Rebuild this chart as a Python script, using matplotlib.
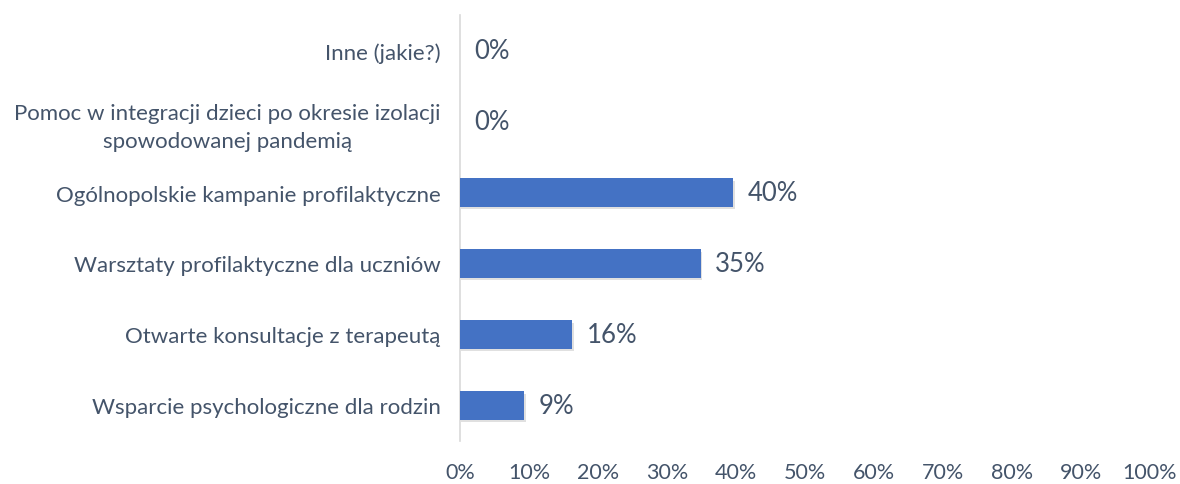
import matplotlib
matplotlib.use("Agg")
import matplotlib.pyplot as plt
import matplotlib.patheffects as pe
from matplotlib.ticker import FuncFormatter

categories = [
    "Wsparcie psychologiczne dla rodzin",
    "Otwarte konsultacje z terapeutą",
    "Warsztaty profilaktyczne dla uczniów",
    "Ogólnopolskie kampanie profilaktyczne",
    "Pomoc w integracji dzieci po okresie izolacji\nspowodowanej pandemią",
    "Inne (jakie?)",
]
values = [0.093, 0.163, 0.349, 0.396, 0.0, 0.0]
x_ticks = [0.0, 0.1, 0.2, 0.3, 0.4, 0.5, 0.6, 0.7, 0.8, 0.9, 1.0]

TEXT = "#44546A"
BAR = "#4472C4"

plt.rcParams['font.family'] = ['Lato', 'DejaVu Sans']

fig = plt.figure(figsize=(11.8, 4.85), dpi=100)
ax = fig.add_axes([460/1180, 43/485, 690/1180, 426/485])

ypos = list(range(len(categories)))
bars = ax.barh(ypos, values, height=0.4, color=BAR, zorder=3)
for b in bars:
    b.set_path_effects([pe.SimplePatchShadow(offset=(1, -2), shadow_rgbFace="#000000", alpha=0.12), pe.Normal()])

for y, v in zip(ypos, values):
    ax.text(v + 0.021, y, f"{v*100:.0f}%", va="center", ha="left",
            fontsize=18.5, color=TEXT)

ax.set_xlim(0, 1.0)
ax.set_ylim(-0.5, len(categories) - 0.5)
ax.set_xticks(x_ticks)
ax.xaxis.set_major_formatter(FuncFormatter(lambda v, p: f"{v*100:.0f}%"))
ax.set_yticks(ypos)
ax.set_yticklabels(categories, multialignment="center", linespacing=1.45)

ax.tick_params(axis="x", length=0, pad=15, labelsize=15.5, labelcolor=TEXT)
ax.tick_params(axis="y", length=0, pad=14, labelsize=16, labelcolor=TEXT)

for s in ["top", "right", "bottom"]:
    ax.spines[s].set_visible(False)
ax.spines["left"].set_color("#D9D9D9")
ax.spines["left"].set_linewidth(1.2)

fig.savefig("out.png", dpi=100)
